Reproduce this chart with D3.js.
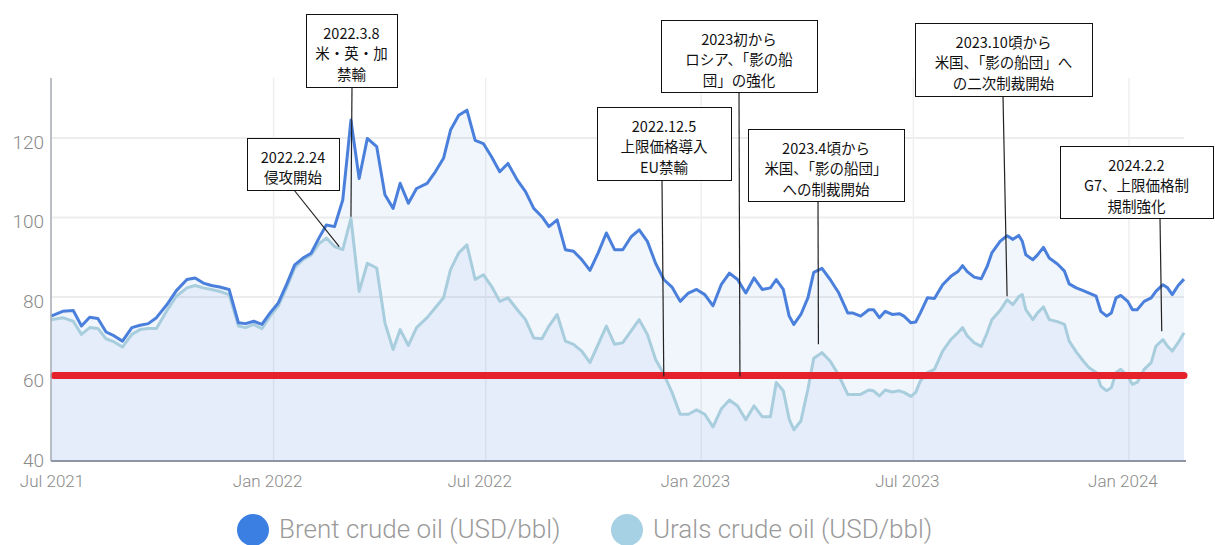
<!DOCTYPE html>
<html>
<head>
<meta charset="utf-8">
<script src="https://cdn.jsdelivr.net/npm/d3@7"></script>
<style>
  html, body { margin: 0; padding: 0; background: #fff; }
  svg { display: block; }
</style>
</head>
<body>
<div id="chart"></div>
<script>
// weekly-ish readings
const dates = [
  "2021-06-25","2021-07-05","2021-07-14","2021-07-21","2021-07-28","2021-08-04","2021-08-11","2021-08-18","2021-08-25","2021-09-02",
  "2021-09-09","2021-09-16","2021-09-23","2021-10-02","2021-10-10","2021-10-19","2021-10-26","2021-11-02","2021-11-09","2021-11-16",
  "2021-11-24","2021-12-02","2021-12-08","2021-12-15","2021-12-22","2021-12-29","2022-01-05","2022-01-12","2022-01-19","2022-01-26",
  "2022-02-02","2022-02-09","2022-02-15","2022-02-22","2022-03-01","2022-03-08","2022-03-15","2022-03-22","2022-03-30","2022-04-06",
  "2022-04-13","2022-04-19","2022-04-26","2022-05-03","2022-05-12","2022-05-19","2022-05-26","2022-06-01","2022-06-08","2022-06-15",
  "2022-06-22","2022-06-29","2022-07-06","2022-07-13","2022-07-20","2022-07-28","2022-08-04","2022-08-11","2022-08-18","2022-08-24",
  "2022-08-31","2022-09-07","2022-09-14","2022-09-21","2022-09-28","2022-10-05","2022-10-12","2022-10-19","2022-10-26","2022-11-02",
  "2022-11-09","2022-11-16","2022-11-23","2022-11-30","2022-12-07","2022-12-14","2022-12-21","2022-12-28","2023-01-04","2023-01-11",
  "2023-01-18","2023-01-25","2023-02-01","2023-02-08","2023-02-15","2023-02-22","2023-03-01","2023-03-06","2023-03-12","2023-03-17",
  "2023-03-21","2023-03-27","2023-04-02","2023-04-07","2023-04-14","2023-04-21","2023-04-28","2023-05-06","2023-05-10","2023-05-17",
  "2023-05-24","2023-05-28","2023-06-02","2023-06-07","2023-06-13","2023-06-19","2023-06-23","2023-06-29","2023-07-03","2023-07-07",
  "2023-07-13","2023-07-19","2023-07-26","2023-08-02","2023-08-08","2023-08-12","2023-08-16","2023-08-22","2023-08-28","2023-09-02",
  "2023-09-06","2023-09-13","2023-09-19","2023-09-24","2023-09-29","2023-10-02","2023-10-05","2023-10-11","2023-10-15","2023-10-20",
  "2023-10-25","2023-11-01","2023-11-07","2023-11-11","2023-11-17","2023-11-23","2023-11-28","2023-12-04","2023-12-08","2023-12-13",
  "2023-12-17","2023-12-21","2023-12-25","2023-12-31","2024-01-04","2024-01-08","2024-01-14","2024-01-20","2024-01-24","2024-01-30",
  "2024-02-03","2024-02-07","2024-02-12","2024-02-17"
];

const brent = [
  75.2,76.4,76.6,72.7,74.9,74.6,71.2,70.2,68.9,72.3,
  72.9,73.3,74.8,78.1,81.6,84.4,84.8,83.5,82.9,82.5,
  81.9,73.5,73.3,73.9,73.1,76.0,78.5,83.1,88.1,89.8,
  91.0,95.0,98.1,97.7,104.4,124.5,109.8,119.9,117.8,105.7,
  102.3,108.6,103.6,107.3,108.6,111.5,114.9,122.0,125.7,127.0,
  119.4,118.6,115.3,111.5,113.6,109.4,106.5,102.3,100.2,97.7,
  99.4,91.9,91.5,89.4,86.7,91.1,96.1,91.9,91.9,95.1,
  96.9,94.0,88.5,84.4,82.5,78.9,81.0,81.9,80.6,77.8,
  83.1,86.0,84.4,81.0,84.8,81.9,82.3,84.4,81.9,75.2,
  73.1,75.6,79.8,86.2,87.2,84.4,81.2,76.0,76.0,75.2,
  76.8,76.8,74.8,76.4,75.6,75.8,75.2,73.5,73.7,76.0,
  79.8,79.6,83.1,85.2,86.4,87.9,86.4,85.0,84.6,87.7,
  91.1,94.0,95.4,94.5,95.5,94.0,90.6,89.4,90.6,92.5,
  89.8,88.3,86.5,83.3,82.3,81.6,81.0,80.2,76.4,75.2,
  76.0,79.8,80.4,78.9,76.8,76.8,78.9,79.8,81.4,83.1,
  82.3,80.6,82.9,84.5
];

const urals = [
  74.3,74.8,73.9,70.6,72.3,72.1,69.5,68.7,67.4,70.6,
  71.8,72.1,72.1,76.6,80.2,82.3,82.9,82.3,81.9,81.4,
  80.6,72.7,72.3,73.1,72.0,75.2,77.7,82.3,87.3,89.4,
  90.6,93.5,94.8,92.7,91.9,99.8,81.4,88.5,87.3,73.5,
  66.8,71.8,67.8,72.3,74.8,77.3,79.8,86.9,91.1,93.1,
  84.4,85.6,82.7,78.9,79.8,76.8,74.3,69.7,69.5,72.7,
  75.6,68.9,68.1,66.4,63.5,68.1,72.7,68.1,68.5,71.4,
  74.3,70.6,64.3,60.6,56.0,50.5,50.5,51.6,50.5,47.3,
  51.8,54.1,52.6,49.1,52.6,49.9,49.9,58.5,56.4,49.3,
  46.6,48.8,56.8,64.6,66.0,63.9,60.5,55.5,55.5,55.5,
  56.6,56.4,55.1,56.6,56.1,56.4,56.0,55.0,56.0,58.9,
  61.0,61.8,66.4,69.3,71.0,72.3,70.2,68.5,67.6,71.0,
  74.3,76.6,79.3,78.1,80.1,80.6,76.8,74.3,76.0,77.5,
  74.3,73.8,73.1,68.9,66.2,63.9,62.2,61.0,57.6,56.4,
  57.2,61.0,61.8,60.1,58.0,58.5,61.8,63.5,67.6,69.3,
  67.6,66.4,68.5,71.0
];

const priceCap = 60;
const yTicks = [40, 60, 80, 100, 120];
const xTicks = ["2021-07-01","2022-01-01","2022-07-01","2023-01-01","2023-07-01","2024-01-01"];
const xTickLabels = ["Jul 2021","Jan 2022","Jul 2022","Jan 2023","Jul 2023","Jan 2024"];
const seriesNames = ["Brent crude oil (USD/bbl)", "Urals crude oil (USD/bbl)"];

// callouts: text, where the pointer ends (date, value)
const notes = [
  { lines: ["2022.2.24", "侵攻開始"], date: "2022-02-26", value: 92.7 },
  { lines: ["2022.3.8", "米・英・加", "禁輸"], date: "2022-03-08", value: 100.2 },
  { lines: ["2022.12.5", "上限価格導入", "EU禁輸"], date: "2022-11-30", value: 60 },
  { lines: ["2023初から", "ロシア、「影の船", "団」の強化"], date: "2023-02-03", value: 60 },
  { lines: ["2023.4頃から", "米国、「影の船団」", "への制裁開始"], date: "2023-04-11", value: 68.1 },
  { lines: ["2023.10頃から", "米国、「影の船団」へ", "の二次制裁開始"], date: "2023-09-19", value: 80.2 },
  { lines: ["2024.2.2", "G7、上限価格制", "規制強化"], date: "2024-01-29", value: 71.4 }
];
// box layout for each callout (x, y, w, h, line start x)
const noteBoxes = [
  [247, 138, 92, 52, 294],
  [306, 14, 91, 73, 352],
  [597, 107, 134, 73, 662],
  [661, 20, 156, 72, 739],
  [748, 129, 156, 72, 818],
  [915, 23, 177, 73, 1003],
  [1060, 146, 153, 72, 1160]
];

const width = 1215, height = 545;
const plotLeft = 51, plotRight = 1184, plotTop = 78, plotBottom = 461;

const parse = d3.timeParse("%Y-%m-%d");
const rows = dates.map((d, i) => ({ date: parse(d), brent: brent[i], urals: urals[i] }));

const x = d3.scaleTime()
  .domain([parse(dates[0]), parse(dates[dates.length - 1])])
  .range([plotLeft, plotRight]);

const y = d3.scaleLinear()
  .domain([40, 120])
  .range([456, 138]);

const svg = d3.select("#chart")
  .append("svg")
  .attr("width", width)
  .attr("height", height);

// grid
const grid = svg.append("g");
grid.append("g")
  .selectAll("line")
  .data(yTicks.slice(1))
  .join("line")
  .attr("x1", plotLeft).attr("x2", plotRight)
  .attr("y1", d => y(d)).attr("y2", d => y(d))
  .attr("stroke", "#ededed")
  .attr("stroke-width", 2);

grid.append("g")
  .selectAll("line")
  .data(xTicks.slice(1))
  .join("line")
  .attr("x1", d => x(parse(d))).attr("x2", d => x(parse(d)))
  .attr("y1", plotTop).attr("y2", plotBottom)
  .attr("stroke", "#efefef")
  .attr("stroke-width", 1.5);

// areas
const area = key => d3.area()
  .x(d => x(d.date))
  .y0(plotBottom)
  .y1(d => y(d[key]));

svg.append("path")
  .datum(rows)
  .attr("d", area("brent"))
  .attr("fill", "#4a86e8")
  .attr("fill-opacity", 0.08);

svg.append("path")
  .datum(rows)
  .attr("d", area("urals"))
  .attr("fill", "#4a86e8")
  .attr("fill-opacity", 0.07);

// lines
const line = key => d3.line()
  .x(d => x(d.date))
  .y(d => y(d[key]));

svg.append("path")
  .datum(rows)
  .attr("d", line("urals"))
  .attr("fill", "none")
  .attr("stroke", "#a8cddd")
  .attr("stroke-width", 3)
  .attr("stroke-linejoin", "round");

svg.append("path")
  .datum(rows)
  .attr("d", line("brent"))
  .attr("fill", "none")
  .attr("stroke", "#4a80dc")
  .attr("stroke-width", 3)
  .attr("stroke-linejoin", "round");

// price cap
svg.append("line")
  .attr("x1", plotLeft + 3).attr("x2", plotRight)
  .attr("y1", y(priceCap) - 1).attr("y2", y(priceCap) - 1)
  .attr("stroke", "#e5222b")
  .attr("stroke-width", 7)
  .attr("stroke-linecap", "round");

// axes lines
svg.append("line")
  .attr("x1", plotLeft).attr("x2", plotLeft)
  .attr("y1", plotTop).attr("y2", plotBottom)
  .attr("stroke", "#a4a8b0")
  .attr("stroke-width", 1.5);

svg.append("line")
  .attr("x1", plotLeft).attr("x2", plotRight + 2)
  .attr("y1", plotBottom).attr("y2", plotBottom)
  .attr("stroke", "#8e96a6")
  .attr("stroke-width", 2);

// tick labels
svg.append("g")
  .selectAll("text")
  .data(yTicks)
  .join("text")
  .attr("x", 44)
  .attr("y", d => y(d) + 4)
  .attr("text-anchor", "end")
  .attr("dominant-baseline", "central")
  .attr("font-family", "Roboto, 'Liberation Sans', sans-serif")
  .attr("font-weight", 300)
  .attr("font-size", 19)
  .attr("fill", "#8a8a8a")
  .text(d => d);

svg.append("g")
  .selectAll("text")
  .data(xTicks)
  .join("text")
  .attr("x", d => x(parse(d)) - 6)
  .attr("y", 481)
  .attr("text-anchor", "middle")
  .attr("dominant-baseline", "central")
  .attr("font-family", "Roboto, 'Liberation Sans', sans-serif")
  .attr("font-weight", 300)
  .attr("font-size", 17)
  .attr("fill", "#8a8a8a")
  .text((d, i) => xTickLabels[i]);

// legend
const legend = svg.append("g");
const legendX = [253, 627];
const legendColors = ["#3c7fe2", "#a6d0e4"];
seriesNames.forEach((name, i) => {
  legend.append("circle")
    .attr("cx", legendX[i]).attr("cy", 530)
    .attr("r", 16)
    .attr("fill", legendColors[i]);
  legend.append("text")
    .attr("x", legendX[i] + 26)
    .attr("y", 529)
    .attr("dominant-baseline", "central")
    .attr("font-family", "Roboto, 'Liberation Sans', sans-serif")
    .attr("font-weight", 300)
    .attr("font-size", 26)
    .attr("fill", "#9a9a9a")
    .text(name);
});

// callouts
const callouts = svg.append("g");
notes.forEach((n, i) => {
  const [bx, by, bw, bh, lx] = noteBoxes[i];
  callouts.append("line")
    .attr("x1", lx).attr("y1", by + bh)
    .attr("x2", x(parse(n.date))).attr("y2", y(n.value))
    .attr("stroke", "#222")
    .attr("stroke-width", 1.2);
  callouts.append("rect")
    .attr("x", bx + 0.5).attr("y", by + 0.5)
    .attr("width", bw).attr("height", bh)
    .attr("fill", "#fff")
    .attr("stroke", "#111")
    .attr("stroke-width", 1);
  callouts.append("g")
    .selectAll("text")
    .data(n.lines)
    .join("text")
    .attr("x", bx + bw / 2)
    .attr("y", (d, j) => by + 18 + j * 20.8)
    .attr("text-anchor", "middle")
    .attr("dominant-baseline", "central")
    .attr("font-family", "'Noto Sans CJK JP', sans-serif")
    .attr("font-size", 14.5)
    .attr("fill", "#111")
    .text(d => d);
});
</script>
</body>
</html>
